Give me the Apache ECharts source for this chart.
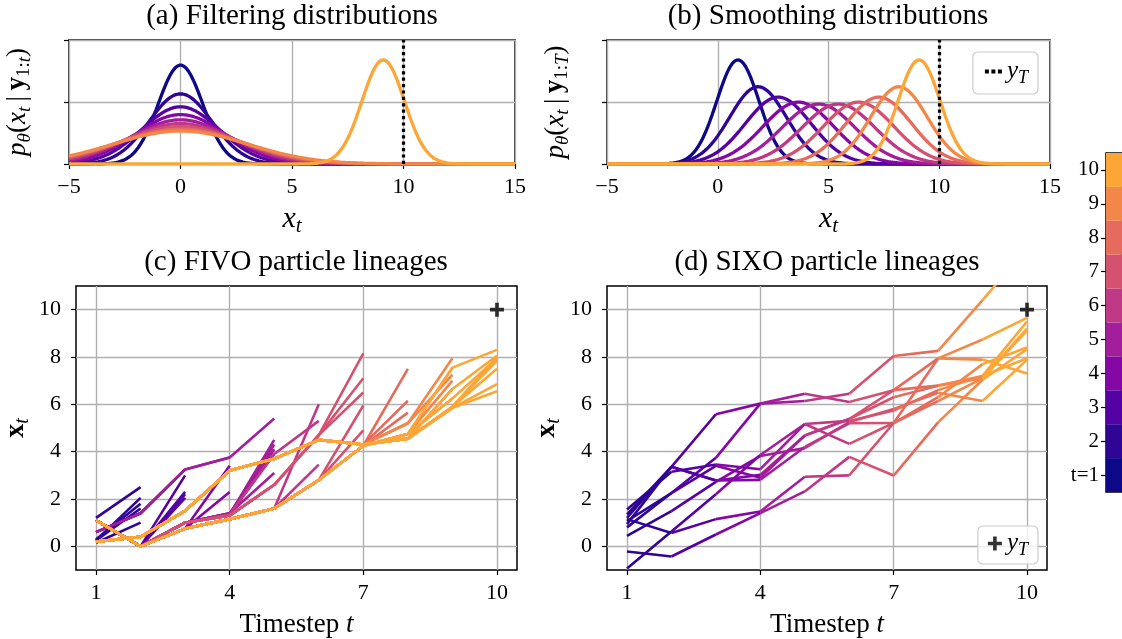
<!DOCTYPE html>
<html>
<head>
<meta charset="utf-8">
<script src="https://cdn.jsdelivr.net/npm/echarts@6/dist/echarts.min.js"></script>
<style>
  html, body { margin: 0; padding: 0; background: #ffffff; }
  #chart { width: 1122px; height: 639px; }
</style>
</head>
<body>
<div id="chart"></div>
<script>
// ---- data ----------------------------------------------------------------
const timesteps = [1, 2, 3, 4, 5, 6, 7, 8, 9, 10];
const yT = 10;                       // observation at the final step T

// Gaussian marginals per timestep (mean, standard deviation)
const filterMean = [0, 0, 0, 0, 0, 0, 0, 0, 0, 9.09];
const filterSd   = [1.0, 1.41, 1.73, 2.0, 2.24, 2.45, 2.65, 2.83, 3.0, 0.95];
const smoothMean = [0.91, 1.82, 2.73, 3.64, 4.55, 5.45, 6.36, 7.27, 8.18, 9.09];
const smoothSd   = [0.95, 1.28, 1.48, 1.6, 1.65, 1.65, 1.6, 1.48, 1.28, 0.95];

// FIVO particles at each timestep and the index of their ancestor at t-1
const fivoX = [
  [1.2, 1.1, 0.6, 0.25, 0.2, 0.3, 0.15, 0.25],
  [2.5, 2.05, 1.8, 1.6, 1.0, 1.4, 0.0, 0.4],
  [3.0, 2.3, 2.2, 2.05, 3.25, 1.5, 0.75, 1.0],
  [3.4, 2.3, 3.75, 3.2, 1.15, 1.35, 1.4, 1.3],
  [5.4, 4.5, 4.3, 4.1, 3.9, 3.1, 3.7, 1.6, 2.6],
  [6.0, 5.3, 3.45, 4.5, 2.8, 4.7],
  [8.15, 7.1, 6.5, 5.95, 4.9, 4.3, 4.25],
  [7.5, 6.15, 5.65, 5.2, 4.75, 4.55],
  [7.95, 7.25, 7.0, 7.55, 6.65, 6.25, 5.9, 5.85],
  [8.3, 8.05, 7.95, 7.85, 7.5, 6.85, 6.55, 8.0]
];
const fivoParent = [
  [],
  [0, 3, 5, 7, 6, 2, 1, 4],
  [6, 6, 6, 6, 5, 7, 6, 6],
  [6, 6, 4, 5, 6, 7, 7, 7],
  [2, 5, 5, 6, 5, 6, 3, 4, 7],
  [7, 4, 7, 6, 7, 8],
  [5, 5, 5, 4, 4, 3, 4],
  [6, 5, 6, 5, 6, 5],
  [3, 3, 4, 4, 5, 4, 5, 5],
  [3, 4, 5, 6, 6, 7, 7, 6]
];

// SIXO particle trajectories x_1..x_10
const sixoPaths = [
  [1.20, 3.36, 5.58, 6.03, 6.45, 6.10, 6.60, 7.94, 7.89, 7.30],
  [1.07, 2.25, 3.74, 6.03, 6.14, 6.45, 8.04, 8.26, 10.40, 12.60],
  [1.35, 3.36, 2.78, 2.81, 4.20, 5.20, 5.21, 7.94, 8.74, 9.65],
  [1.56, 3.15, 3.46, 3.26, 5.17, 5.30, 5.74, 6.60, 7.20, 9.50],
  [0.94, 3.36, 2.78, 3.02, 4.68, 5.38, 6.30, 6.79, 7.10, 9.12],
  [0.44, 1.49, 2.72, 3.82, 4.15, 5.25, 5.80, 6.49, 6.14, 7.88],
  [1.15, 0.56, 1.15, 1.47, 2.94, 3.00, 5.21, 6.30, 7.70, 8.40],
  [-0.22, -0.43, 0.50, 1.40, 2.32, 3.78, 2.99, 5.24, 7.04, 8.33],
  [-0.94, 0.63, 2.20, 3.86, 5.17, 4.33, 5.21, 6.14, 7.10, 9.20],
  [0.80, 2.25, 3.40, 2.90, 4.68, 5.38, 6.60, 6.79, 7.20, 7.95]
];

const colorbarLabels = ['t=1', '2', '3', '4', '5', '6', '7', '8', '9', '10'];
const lineageTicks = [1, 4, 7, 10];
const stateTicks = [0, 2, 4, 6, 8, 10];

// ---- styles ----------------------------------------------------------------
const SERIF = 'Liberation Serif';
const tColors = ['#0d0887', '#2f0596', '#5502a4', '#8407a6', '#a31e9a',
                 '#be3885', '#d45270', '#e56b5d', '#f3874a', '#fca636'];
const GRID_GRAY = '#b0b0b0';

function mathRich(size) {
  const sub = Math.round(size * 0.7);
  const base = { fontFamily: SERIF, color: '#000', fontSize: size, lineHeight: size + 6 };
  const small = { fontFamily: SERIF, color: '#000', fontSize: sub, lineHeight: sub, verticalAlign: 'bottom' };
  return {
    r: Object.assign({}, base),
    i: Object.assign({ fontStyle: 'italic' }, base),
    b: Object.assign({ fontWeight: 'bold' }, base),
    si: Object.assign({ fontStyle: 'italic' }, small),
    sr: Object.assign({}, small)
  };
}
const minus = v => (v < 0 ? '\u2212' + (-v) : String(v));

const tickStyle = { show: true, inside: false, length: 5, lineStyle: { color: '#000', width: 1.2 } };
const splitStyle = { show: true, lineStyle: { color: GRID_GRAY, width: 1.4 } };
const xLabelStyle = { fontFamily: SERIF, fontSize: 22, color: '#000', margin: 12 };
const yLabelStyle = { fontFamily: SERIF, fontSize: 22, color: '#000', margin: 15 };
const noLine = { show: false, onZero: false };

// ---- layout ----------------------------------------------------------------
const grids = [
  { left: 69,  top: 40,  width: 446, height: 124 },   // (a)
  { left: 607, top: 40,  width: 443, height: 124 },   // (b)
  { left: 76,  top: 286, width: 441, height: 287 },   // (c)
  { left: 607, top: 286, width: 440, height: 287 },   // (d)
  { left: 1106, top: 153, width: 40, height: 339 }    // colour bar
].map(g => Object.assign({ show: true, borderColor: '#000', borderWidth: 1.5,
                           backgroundColor: 'transparent', containLabel: false }, g));

const xAxes = [], yAxes = [];
// density panels
[0, 1].forEach(g => {
  xAxes.push({
    gridIndex: g, type: 'value', min: -5, max: 15, interval: 5,
    axisLine: noLine, axisTick: tickStyle, splitLine: splitStyle,
    axisLabel: Object.assign({ formatter: minus }, xLabelStyle),
    name: '{i|x}{si|t}', nameLocation: 'middle', nameGap: 37,
    nameTextStyle: { rich: mathRich(30) }
  });
  yAxes.push({
    gridIndex: g, type: 'value', min: 0, max: 0.5, interval: 0.25,
    axisLine: noLine, axisTick: tickStyle, splitLine: splitStyle,
    axisLabel: { show: false },
    name: g === 0
      ? '{i|p}{si|θ}{r|(}{i|x}{si|t}{r|\u2009|\u2009}{b|y}{sr|1:}{si|t}{r|)}'
      : '{i|p}{si|θ}{r|(}{i|x}{si|t}{r|\u2009|\u2009}{b|y}{sr|1:}{si|T}{r|)}',
    nameLocation: 'middle', nameRotate: 90, nameGap: 35,
    nameTextStyle: { rich: mathRich(27) }
  });
});
// lineage panels
[2, 3].forEach(g => {
  xAxes.push({
    gridIndex: g, type: 'value', min: 0.55, max: 10.45,
    axisLine: noLine,
    axisTick: Object.assign({ customValues: lineageTicks }, tickStyle),
    splitLine: splitStyle,
    axisLabel: Object.assign({ customValues: lineageTicks }, xLabelStyle),
    name: '{r|Timestep }{i|t}', nameLocation: 'middle', nameGap: 38,
    nameTextStyle: { rich: mathRich(27) }
  });
  yAxes.push({
    gridIndex: g, type: 'value', min: -1, max: 11,
    axisLine: noLine,
    axisTick: Object.assign({ customValues: stateTicks }, tickStyle),
    splitLine: splitStyle,
    axisLabel: Object.assign({ customValues: stateTicks }, yLabelStyle),
    name: '{b|x}{si|t}', nameLocation: 'middle', nameRotate: 90, nameGap: 43,
    nameTextStyle: { rich: mathRich(28) }
  });
});
// colour bar
xAxes.push({ gridIndex: 4, type: 'value', min: 0, max: 1, show: false });
yAxes.push({
  gridIndex: 4, type: 'category', data: colorbarLabels,
  axisLine: noLine,
  axisTick: Object.assign({ alignWithLabel: true }, tickStyle),
  axisLabel: Object.assign({}, yLabelStyle, { fontSize: 21, margin: 7 }),
  splitLine: { show: false }
});

// ---- series ----------------------------------------------------------------
const series = [];
const xs = [];
for (let k = 0; k <= 400; k++) xs.push(-5 + k * 0.05);
const pdf = (x, m, s) => Math.exp(-0.5 * ((x - m) / s) ** 2) / (s * Math.sqrt(2 * Math.PI));

const DOTTED = { color: '#000', width: 3.2, type: [3.2, 3.2], cap: 'butt' };
function densitySeries(g, means, sds) {
  timesteps.forEach((t, k) => {
    series.push({
      type: 'line', xAxisIndex: g, yAxisIndex: g, silent: true,
      showSymbol: false, symbol: 'none', animation: false,
      lineStyle: { color: tColors[k], width: 3.3 },
      data: xs.map(x => [x, pdf(x, means[k], sds[k])])
    });
  });
  series.push({
    type: 'line', name: g === 1 ? 'obs-line' : 'obs-line-a',
    xAxisIndex: g, yAxisIndex: g, data: [], symbol: 'none', animation: false,
    itemStyle: { color: '#000' }, lineStyle: DOTTED,
    markLine: {
      silent: true, symbol: ['none', 'none'], animation: false,
      label: { show: false }, lineStyle: DOTTED,
      data: [{ xAxis: yT }]
    },
    z: 5
  });
}
densitySeries(0, filterMean, filterSd);
densitySeries(1, smoothMean, smoothSd);

// FIVO: full ancestral lineage of every particle at time t, coloured by t
for (let ti = 1; ti < timesteps.length; ti++) {
  fivoX[ti].forEach((x, i) => {
    const pts = [];
    let idx = i;
    for (let s = ti; s >= 0; s--) {
      pts.unshift([timesteps[s], fivoX[s][idx]]);
      if (s > 0) idx = fivoParent[s][idx];
    }
    series.push({
      type: 'line', xAxisIndex: 2, yAxisIndex: 2, silent: true,
      showSymbol: false, symbol: 'none', animation: false,
      lineStyle: { color: tColors[ti], width: 2.6 }, data: pts
    });
  });
}
// SIXO: each step of every trajectory, coloured by the step's end time
for (let ti = 1; ti < timesteps.length; ti++) {
  sixoPaths.forEach(p => {
    series.push({
      type: 'line', xAxisIndex: 3, yAxisIndex: 3, silent: true,
      showSymbol: false, symbol: 'none', animation: false,
      lineStyle: { color: tColors[ti], width: 2.6 },
      data: [[timesteps[ti - 1], p[ti - 1]], [timesteps[ti], p[ti]]]
    });
  });
}
// observation marker
const PLUS = 'path://M3.7,0H6.3V3.7H10V6.3H6.3V10H3.7V6.3H0V3.7H3.7Z';
[2, 3].forEach(g => {
  series.push({
    type: 'scatter', name: g === 3 ? 'obs-plus' : 'obs-plus-c',
    xAxisIndex: g, yAxisIndex: g, symbol: PLUS, symbolSize: 14,
    itemStyle: { color: '#000' }, animation: false, silent: true, z: 10,
    data: [[timesteps[timesteps.length - 1], yT]]
  });
});
// colour bar
series.push({
  type: 'bar', xAxisIndex: 4, yAxisIndex: 4, silent: true, animation: false,
  barWidth: '100%', barCategoryGap: '0%',
  data: colorbarLabels.map((_, k) => ({ value: 1, itemStyle: { color: tColors[k] } }))
});

// ---- titles & legends ------------------------------------------------------
const titleText = (text, cx, top) => ({
  text, left: cx, top, textAlign: 'center', padding: 0,
  textStyle: { fontFamily: SERIF, fontSize: 29, fontWeight: 'normal', color: '#000' }
});
const legendBox = {
  orient: 'horizontal', borderColor: '#cccccc', borderWidth: 1.2, borderRadius: 5,
  backgroundColor: 'rgba(255,255,255,0.8)', itemGap: 6,
  textStyle: { rich: mathRich(25) },
  formatter: () => '{i|y}{si|T}', selectedMode: false
};
const DOTS = 'path://M0,0H4V4H0Z M6.5,0H10.5V4H6.5Z M13,0H17V4H13Z';

const option = {
  animation: false,
  backgroundColor: '#ffffff',
  title: [
    titleText('(a) Filtering distributions', 292, 2),
    titleText('(b) Smoothing distributions', 828, 2),
    titleText('(c) FIVO particle lineages', 296, 248),
    titleText('(d) SIXO particle lineages', 827, 248)
  ],
  legend: [
    Object.assign({}, legendBox, {
      data: [{ name: 'obs-line', icon: DOTS, itemStyle: { color: '#000' } }],
      right: 84, top: 52, padding: [7, 10, 7, 12], itemWidth: 17, itemHeight: 4
    }),
    Object.assign({}, legendBox, {
      data: [{ name: 'obs-plus', icon: PLUS, itemStyle: { color: '#000' } }],
      right: 84, top: 526, padding: [5, 10, 5, 10], itemWidth: 14, itemHeight: 14
    })
  ],
  grid: grids,
  xAxis: xAxes,
  yAxis: yAxes,
  series
};

const chart = echarts.init(document.getElementById('chart'), null, { renderer: 'canvas' });
chart.setOption(option);
</script>
</body>
</html>
